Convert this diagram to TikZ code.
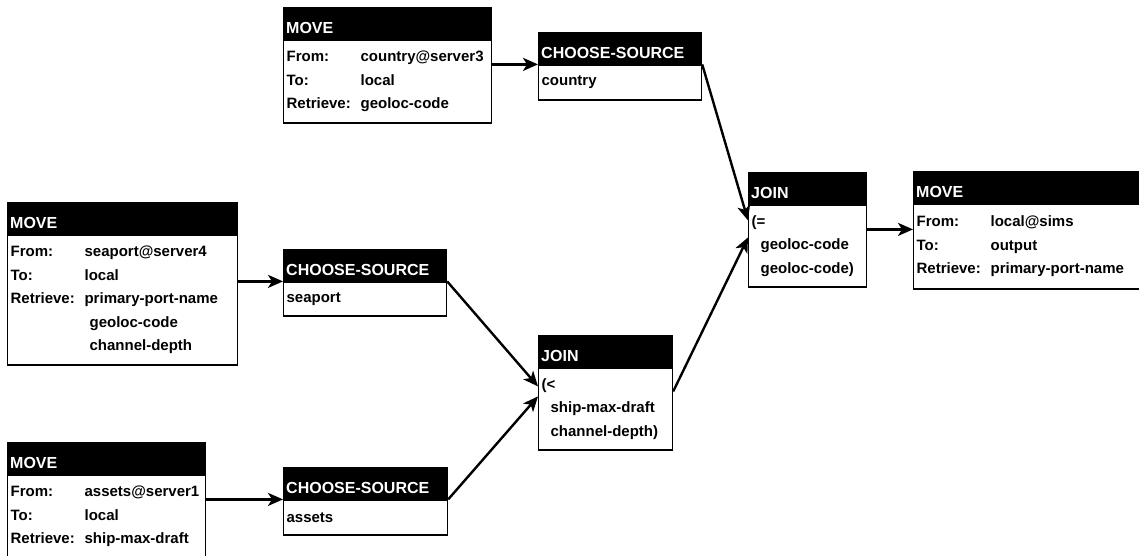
\documentclass[tikz,border=0pt]{standalone}
\usepackage{fontspec}
\setmainfont{Liberation Sans}
\usetikzlibrary{arrows.meta,positioning}

\newcommand{\hdrfont}{\fontsize{16}{19}\selectfont\bfseries}
\newcommand{\bodyfont}{\fontsize{15}{23.5}\selectfont\bfseries}
\newcommand{\fld}[1]{\makebox[74pt][l]{#1}}

\begin{document}
\begin{tikzpicture}[x=1pt, y=-1pt,
    hdr/.style={fill=black, draw=black, text=white, anchor=north west, align=left,
      inner xsep=3pt, inner ysep=0pt, text height=26pt, text depth=6pt, font=\hdrfont},
    body/.style={draw=black, line width=1.2pt, anchor=north west, align=left,
      inner xsep=3pt, inner ysep=0pt, font=\bodyfont},
    flow/.style={line width=2.4pt, -{Stealth[length=15pt,width=13pt,inset=4pt]}}]
  \useasboundingbox (0,0) rectangle (1139,556);

  % Move country (top)
  \node[hdr, text width=202pt] (mvcountryh) at (283,7) {MOVE};
  \node[body, text width=202pt, minimum height=83pt] (mvcountry) at (mvcountryh.south west)
    {\fld{From:}country@server3\\ \fld{To:}local\\ \fld{Retrieve:}geoloc-code};
  \node[hdr, text width=157pt] (cscountryh) at (538,32) {CHOOSE-SOURCE};
  \node[body, text width=157pt, minimum height=35pt] (cscountry) at (cscountryh.south west) {country};

  % Move seaport (middle left)
  \node[hdr, text width=224pt] (mvseaporth) at (7,202) {MOVE};
  \node[body, text width=224pt, minimum height=130pt] (mvseaport) at (mvseaporth.south west)
    {\fld{From:}seaport@server4\\ \fld{To:}local\\ \fld{Retrieve:}primary-port-name\\
     \fld{}\ geoloc-code\\ \fld{}\ channel-depth};
  \node[hdr, text width=157pt] (csseaporth) at (283,249) {CHOOSE-SOURCE};
  \node[body, text width=157pt, minimum height=34pt] (csseaport) at (csseaporth.south west) {seaport};

  % Move assets (bottom left)
  \node[hdr, text width=192pt] (mvassetsh) at (7,442) {MOVE};
  \node[body, text width=192pt, minimum height=83pt] (mvassets) at (mvassetsh.south west)
    {\fld{From:}assets@server1\\ \fld{To:}local\\ \fld{Retrieve:}ship-max-draft};
  \node[hdr, text width=158pt] (csassetsh) at (283,467) {CHOOSE-SOURCE};
  \node[body, text width=158pt, minimum height=35pt] (csassets) at (csassetsh.south west) {assets};

  % Joins
  \node[hdr, text width=128pt] (joinlowh) at (538,335) {JOIN};
  \node[body, text width=128pt, minimum height=82pt] (joinlow) at (joinlowh.south west)
    {(<\\ \hspace*{9pt}ship-max-draft\\ \hspace*{9pt}channel-depth)};
  \node[hdr, text width=112pt] (joinuph) at (748,172) {JOIN};
  \node[body, text width=112pt, minimum height=82pt] (joinup) at (joinuph.south west)
    {(=\\ \hspace*{9pt}geoloc-code\\ \hspace*{9pt}geoloc-code)};

  % Move to output (right)
  \node[hdr, text width=234pt] (mvouth) at (913,171) {MOVE};
  \node[body, text width=234pt, minimum height=85pt] (mvout) at (mvouth.south west)
    {\fld{From:}local@sims\\ \fld{To:}output\\ \fld{Retrieve:}primary-port-name};

  \draw[flow] (mvcountry.east |- cscountry.north west) -- (cscountry.north west);
  \draw[flow] (mvseaport.east |- csseaport.north west) -- (csseaport.north west);
  \draw[flow] (mvassets.east |- csassets.north west) -- (csassets.north west);
  \draw[flow] (cscountry.north east) -- ([yshift=-16pt]joinup.north west);
  \draw[flow] (csseaport.north east) -- ([yshift=-19pt]joinlow.north west);
  \draw[flow] (csassets.north east) -- ([yshift=-29pt]joinlow.north west);
  \draw[flow] ([yshift=-24pt]joinlow.north east) -- ([yshift=-33pt]joinup.north west);
  \coordinate (joinout) at ([yshift=-25pt]joinup.north east);
  \draw[flow] (joinout) -- (joinout -| mvout.west);
\end{tikzpicture}
\end{document}
